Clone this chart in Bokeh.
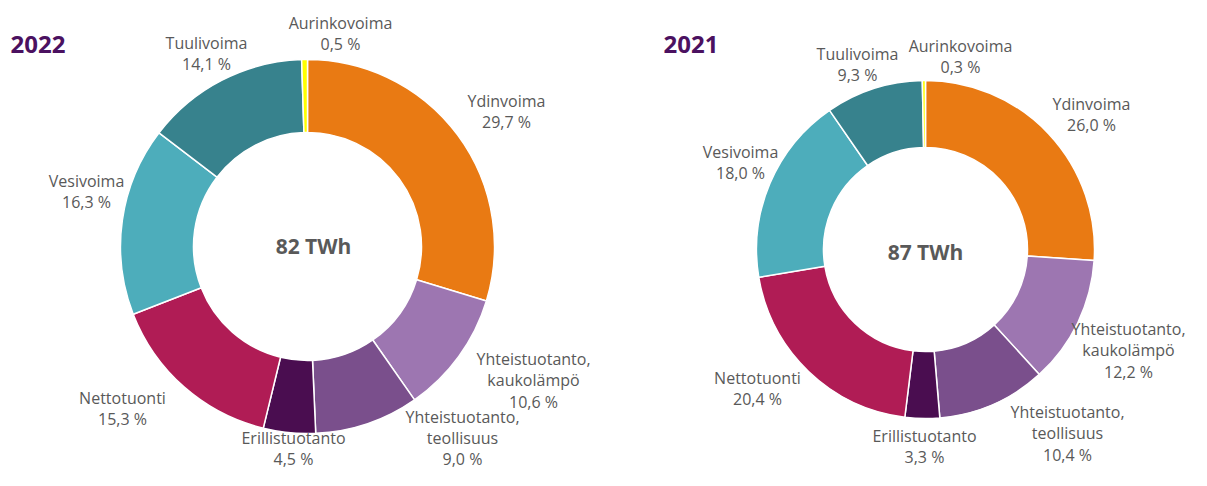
import numpy as np
from bokeh.plotting import figure
from bokeh.models import Range1d, ColumnDataSource
from bokeh.core.properties import value
from bokeh.embed import file_html
from bokeh.resources import INLINE

# ---------------- data ----------------
years = ["2022", "2021"]
categories = [
    "Ydinvoima",
    "Yhteistuotanto,\nkaukolämpö",
    "Yhteistuotanto,\nteollisuus",
    "Erillistuotanto",
    "Nettotuonti",
    "Vesivoima",
    "Tuulivoima",
    "Aurinkovoima",
]
share_2022 = [29.7, 10.6, 9.0, 4.5, 15.3, 16.3, 14.1, 0.5]
share_2021 = [26.0, 12.2, 10.4, 3.3, 20.4, 18.0, 9.3, 0.3]
totals_twh = [82, 87]

# ---------------- styles / layout ----------------
colors = ["#E97A13", "#9D76B1", "#7A4F8C", "#4A0D50", "#B01C55",
          "#4DADBB", "#37828D", "#FFFF00"]
TEXT_GREY = "#595959"
TITLE_COLOR = "#4B1160"
FONT = "Open Sans"

W, H = 1191, 470
REF_H = 486

# positions in picture pixel coords (y downward)
layout = [
    dict(cx=307, cy=246, r_out=187, r_in=114, title=(10, 44), center_txt=(313, 245),
         label_pos=[(506, 111), (533, 380), (462, 437.5), (293, 448), (122, 408),
                    (86, 191), (206, 53), (340, 33)]),
    dict(cx=925, cy=249, r_out=169, r_in=102, title=(663, 44), center_txt=(925, 251),
         label_pos=[(1091, 114), (1128, 350), (1067, 433), (924, 446), (757, 388),
                    (740, 162), (857, 64), (960, 56)]),
]

p = figure(width=W, height=H, x_range=Range1d(0, W), y_range=Range1d(REF_H - H, REF_H),
           output_backend="svg", toolbar_location=None, min_border=0)
p.axis.visible = False
p.grid.visible = False
p.outline_line_color = None
p.background_fill_color = "white"
p.border_fill_color = "white"


def fmt(v):
    return f"{v:.1f}".replace(".", ",") + " %"


for year, shares, total, lay in zip(years, [share_2022, share_2021], totals_twh, layout):
    s = np.array(shares, dtype=float)
    frac = s / s.sum()
    cum = np.concatenate([[0.0], np.cumsum(frac)])
    a_start = np.pi / 2 - 2 * np.pi * cum[:-1]
    a_end = np.pi / 2 - 2 * np.pi * cum[1:]
    cx = lay["cx"]
    cy = REF_H - lay["cy"]
    src = ColumnDataSource(dict(
        x=[cx] * len(s), y=[cy] * len(s),
        start=a_end, end=a_start, color=colors,
    ))
    p.annular_wedge(x="x", y="y", inner_radius=lay["r_in"], outer_radius=lay["r_out"],
                    start_angle="start", end_angle="end", fill_color="color",
                    line_color="white", line_width=1.5, source=src)

    # labels
    lx = [pos[0] for pos in lay["label_pos"]]
    ly = [REF_H - pos[1] for pos in lay["label_pos"]]
    txt = [f"{c}\n{fmt(v)}" for c, v in zip(categories, shares)]
    p.text(x=lx, y=ly, text=txt, text_align="center", text_baseline="middle",
           text_font=value(FONT), text_font_size="16px", text_color=TEXT_GREY,
           text_line_height=0.975)

    # centre total
    p.text(x=[lay["center_txt"][0]], y=[REF_H - lay["center_txt"][1]],
           text=[f"{total} TWh"], text_align="center", text_baseline="middle",
           text_font=value(FONT), text_font_size="21px", text_font_style="bold",
           text_color=TEXT_GREY)

    # year title
    p.text(x=[lay["title"][0]], y=[REF_H - lay["title"][1]], text=[year],
           text_align="left", text_baseline="middle", text_font=value(FONT),
           text_font_size="24px", text_font_style="bold", text_color=TITLE_COLOR)

open("out.html", "w").write(file_html(p, INLINE))
